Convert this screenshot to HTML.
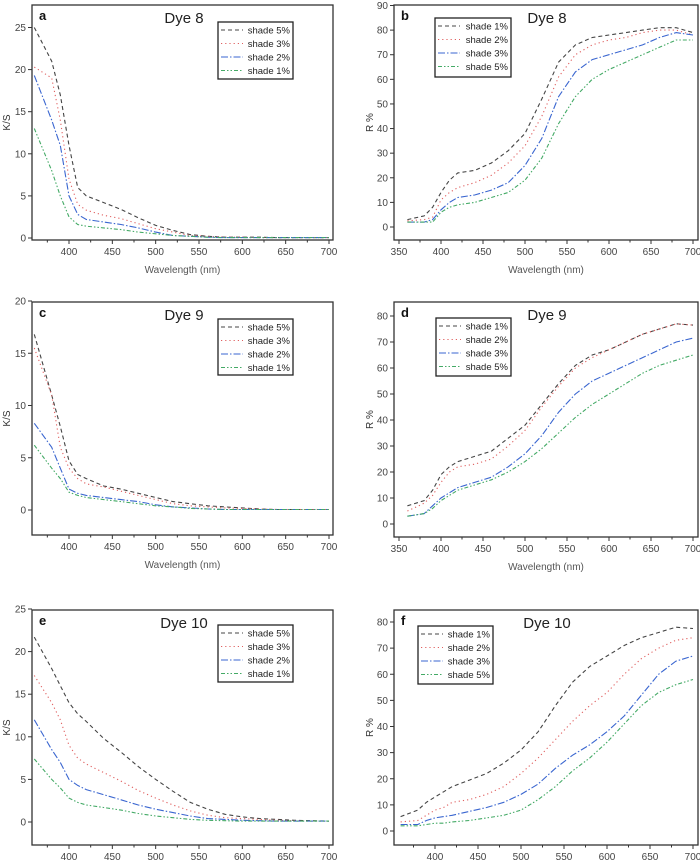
<!DOCTYPE html>
<html><head><meta charset="utf-8"><style>
body{margin:0;background:#fff;}
svg{display:block;font-family:"Liberation Sans",sans-serif;}
</style></head><body>
<svg id="fig" width="700" height="860" viewBox="0 0 700 860"></svg>
<script>
const wavelengths=[360,380,390,400,410,420,440,460,480,500,520,540,560,580,600,620,640,660,680,700];
const aS5=[25,21,17,11,6,5,4.2,3.4,2.4,1.5,0.9,0.4,0.2,0.1,0.1,0.1,0.05,0.05,0.05,0.05];
const aS3=[20.3,19,14,7,4,3.3,2.7,2.3,1.7,1.1,0.7,0.3,0.2,0.1,0.1,0.05,0.05,0.05,0.05,0.05];
const aS2=[19.3,14,11,5,2.8,2.2,1.9,1.6,1.2,0.7,0.3,0.2,0.1,0.05,0.05,0.05,0.05,0.05,0.05,0.05];
const aS1=[13,8,5,2.5,1.6,1.4,1.2,1.0,0.7,0.5,0.3,0.2,0.1,0.05,0.05,0.05,0.05,0.05,0.05,0.05];
const bS1=[3,4.5,8,14,19,22,23,26,31,38,52,67,74,77,78,79,80,81,81,79];
const bS2=[2.5,3,4,11,14,16,18,21,26,33,45,61,70,74,76,77,79,80,80,78];
const bS3=[2,2,3,7,10,12,13,15,18,25,36,53,63,68,70,72,74,77,79,78];
const bS5=[2,2,2,6,8,9,10,12,14,19,28,42,53,60,64,67,70,73,76,76];
const cS5=[16.8,11,8,4.7,3.4,3.0,2.3,2.0,1.6,1.2,0.8,0.6,0.4,0.3,0.2,0.1,0.05,0.05,0.05,0.05];
const cS3=[15.5,11,6,4,3,2.5,2.2,1.8,1.4,1.0,0.6,0.4,0.3,0.2,0.15,0.1,0.05,0.05,0.05,0.05];
const cS2=[8.3,6,4,2,1.6,1.4,1.2,1.0,0.8,0.5,0.3,0.2,0.1,0.05,0.05,0.05,0.05,0.05,0.05,0.05];
const cS1=[6.2,4,3,1.7,1.4,1.2,1.0,0.8,0.6,0.4,0.3,0.15,0.1,0.05,0.05,0.05,0.05,0.05,0.05,0.05];
const dS1=[7,9,13,19,22,24,26,28,33,38,46,54,61,65,67,70,73,75,77,76.5];
const dS2=[5,8,11,16,20,22,23,25,30,36,45,53,60,64,67,70,73,75,77,76.5];
const dS3=[3,4,7,10,12,14,16,18,22,27,34,43,50,55,58,61,64,67,70,71.5];
const dS5=[3,4,6,9,11,13,15,17,20,24,29,35,41,46,50,54,58,61,63,65];
const eS5=[21.7,18,16,14,12.7,11.8,9.8,8.2,6.5,5,3.6,2.3,1.5,0.9,0.6,0.4,0.3,0.2,0.15,0.1];
const eS3=[17.2,14,12,9,7.5,6.8,5.8,4.8,3.7,2.8,2.0,1.3,0.8,0.5,0.4,0.3,0.2,0.15,0.1,0.1];
const eS2=[12,8.5,7,5,4.3,3.8,3.2,2.6,2.0,1.5,1.1,0.7,0.4,0.3,0.2,0.15,0.1,0.1,0.1,0.1];
const eS1=[7.4,5,4,2.8,2.3,2.0,1.7,1.4,1.0,0.7,0.5,0.3,0.2,0.15,0.1,0.1,0.1,0.1,0.1,0.1];
const fS1=[5.5,8,11,13,15,17,19.5,22,26,31,38,48,57,63,67,71,74,76,78,77.5];
const fS2=[3.5,4,6,8,9,11,12,14,17,22,28,35,42,48,53,60,66,70,73,74];
const fS3=[2.5,2.5,4,5,5.5,6,7.5,9,11,14,18,24,29,33,38,44,52,60,65,67];
const fS5=[2,2,2.5,3,3,3.5,4,5,6,8,12,17,23,28,34,41,48,53,56,58];
const leftXTicks=[400,450,500,550,600,650,700];
const rightXTicks=[350,400,450,500,550,600,650,700];
const ksTicks25=[0,5,10,15,20,25];
const ksTicks20=[0,5,10,15,20];
const rTicks90=[0,10,20,30,40,50,60,70,80,90];
const rTicks80=[0,10,20,30,40,50,60,70,80];
const legLeft=["shade 5%","shade 3%","shade 2%","shade 1%"];
const legRight=["shade 1%","shade 2%","shade 3%","shade 5%"];

const NS="http://www.w3.org/2000/svg";
const svg=document.getElementById('fig');
const styles={k:{c:"#444",d:"4,3"},r:{c:"#e06060",d:"1.2,3"},b:{c:"#3a66d0",d:"7,2,1.5,2"},g:{c:"#44aa66",d:"4,2,1.5,2,1.5,2"}};
function mk(tag,attrs,parent){const e=document.createElementNS(NS,tag);for(const k in attrs)e.setAttribute(k,attrs[k]);(parent||svg).appendChild(e);return e;}

function panel(p){
  const g=mk('g',{});
  
  
  const sx=v=>p.x0px+(v-p.x0v)*(p.x1px-p.x0px)/(p.x1v-p.x0v);
  const sy=v=>p.y0px+(v-p.y0v)*(p.y1px-p.y0px)/(p.y1v-p.y0v);
  const box=mk('rect',{x:p.L,y:p.T,width:p.R-p.L,height:p.B-p.T,fill:'none',stroke:'#333','stroke-width':1.3},g);
  
  
  for(let v=p.xt[0]-50; v<=700; v+=25){
    const x=sx(v); if(x<p.L||x>p.R+1) continue;
    const major=(v%50===0);
    mk('line',{x1:x,x2:x,y1:p.B,y2:p.B+(major?4:2.5),stroke:'#333','stroke-width':1},g);
  }
  p.xt.forEach(v=>{
    const t=mk('text',{x:sx(v),y:p.B+15,'font-size':10,'text-anchor':'middle',fill:'#444'},g);
    t.textContent=v;
    
    
  });
  p.yt.forEach(v=>{
    const y=sy(v);
    mk('line',{x1:p.L-4,x2:p.L,y1:y,y2:y,stroke:'#333','stroke-width':1},g);
    const t=mk('text',{x:p.L-6,y:y+3.5,'font-size':10,'text-anchor':'end',fill:'#444'},g);
    t.textContent=v;
    
    
  });
  if(p.xlabel){
    const t=mk('text',{x:(p.L+p.R)/2,y:p.B+33,'font-size':10,'text-anchor':'middle',fill:'#555'},g);
    t.textContent='Wavelength (nm)';
    
    
  }
  const yl=mk('text',{x:0,y:0,'font-size':10,'text-anchor':'middle',fill:'#333',transform:`translate(${p.ylx},${(p.T+p.B)/2}) rotate(-90)`},g);
  yl.textContent=p.ylabel;
  
  
  const lt=mk('text',{x:p.L+7,y:p.T+15,'font-size':13,'font-weight':'bold',fill:'#111'},g);
  lt.textContent=p.id;
  
  
  const tt=mk('text',{x:p.titleX,y:p.T+18,'font-size':15,'text-anchor':'middle',fill:'#222'},g);
  tt.textContent=p.title;
  
  
  p.series.forEach((s,i)=>{
    const st=styles[s.s];
    const pts=wavelengths.map((w,j)=>sx(w).toFixed(1)+','+sy(s.v[j]).toFixed(1)).join(' ');
    const pl=mk('polyline',{points:pts,fill:'none',stroke:st.c,'stroke-width':1.1,'stroke-dasharray':st.d},g);
    
    
  });
  const lg=mk('g',{},g);
  
  
  mk('rect',{x:p.lg[0],y:p.lg[1],width:p.lg[2],height:p.lg[3],fill:'#fff',stroke:'#222','stroke-width':1.3},lg);
  p.series.forEach((s,i)=>{
    const st=styles[s.s];
    const y=p.lg[1]+8+i*13.5;
    mk('line',{x1:p.lg[0]+3,x2:p.lg[0]+25,y1:y,y2:y,stroke:st.c,'stroke-width':1.1,'stroke-dasharray':st.d},lg);
    const t=mk('text',{x:p.lg[0]+p.lg[2]-3,y:y+3.5,'font-size':9.5,'text-anchor':'end',fill:'#222'},lg);
    t.textContent=s.name;
    
    
  });
}
const L={x0v:400,x0px:69,x1v:700,x1px:329,L:32,R:333,xt:leftXTicks,ylabel:'K/S',ylx:10,titleX:184};
const R={x0v:350,x0px:399,x1v:700,x1px:693,L:394,R:698,xt:rightXTicks,ylabel:'R %',ylx:373,titleX:547};
panel(Object.assign({},L,{id:'a',title:'Dye 8',T:5,B:240,y0v:0,y0px:238,y1v:25,y1px:27.5,yt:ksTicks25,xlabel:true,lg:[218,22,75,57],
  series:[{name:legLeft[0],s:'k',v:aS5},{name:legLeft[1],s:'r',v:aS3},{name:legLeft[2],s:'b',v:aS2},{name:legLeft[3],s:'g',v:aS1}]}));
panel(Object.assign({},R,{id:'b',title:'Dye 8',T:5,B:240,y0v:0,y0px:227,y1v:90,y1px:5.5,yt:rTicks90,xlabel:true,lg:[435,18,76,59],
  series:[{name:legRight[0],s:'k',v:bS1},{name:legRight[1],s:'r',v:bS2},{name:legRight[2],s:'b',v:bS3},{name:legRight[3],s:'g',v:bS5}]}));
panel(Object.assign({},L,{id:'c',title:'Dye 9',T:302,B:535,y0v:0,y0px:510,y1v:20,y1px:301,yt:ksTicks20,xlabel:true,lg:[218,319,75,56],
  series:[{name:legLeft[0],s:'k',v:cS5},{name:legLeft[1],s:'r',v:cS3},{name:legLeft[2],s:'b',v:cS2},{name:legLeft[3],s:'g',v:cS1}]}));
panel(Object.assign({},R,{id:'d',title:'Dye 9',T:302,B:537,y0v:0,y0px:524,y1v:80,y1px:316,yt:rTicks80,xlabel:true,lg:[436,318,75,58],
  series:[{name:legRight[0],s:'k',v:dS1},{name:legRight[1],s:'r',v:dS2},{name:legRight[2],s:'b',v:dS3},{name:legRight[3],s:'g',v:dS5}]}));
panel(Object.assign({},L,{id:'e',title:'Dye 10',T:610,B:845,y0v:0,y0px:822,y1v:25,y1px:609,yt:ksTicks25,xlabel:false,lg:[218,625,75,57],
  series:[{name:legLeft[0],s:'k',v:eS5},{name:legLeft[1],s:'r',v:eS3},{name:legLeft[2],s:'b',v:eS2},{name:legLeft[3],s:'g',v:eS1}]}));
panel(Object.assign({},R,{id:'f',title:'Dye 10',x0v:400,x0px:435,x1v:700,x1px:693,xt:leftXTicks,T:610,B:845,y0v:0,y0px:831,y1v:80,y1px:622,yt:rTicks80,xlabel:false,lg:[418,626,75,58],
  series:[{name:legRight[0],s:'k',v:fS1},{name:legRight[1],s:'r',v:fS2},{name:legRight[2],s:'b',v:fS3},{name:legRight[3],s:'g',v:fS5}]}));
</script>
</body></html>
